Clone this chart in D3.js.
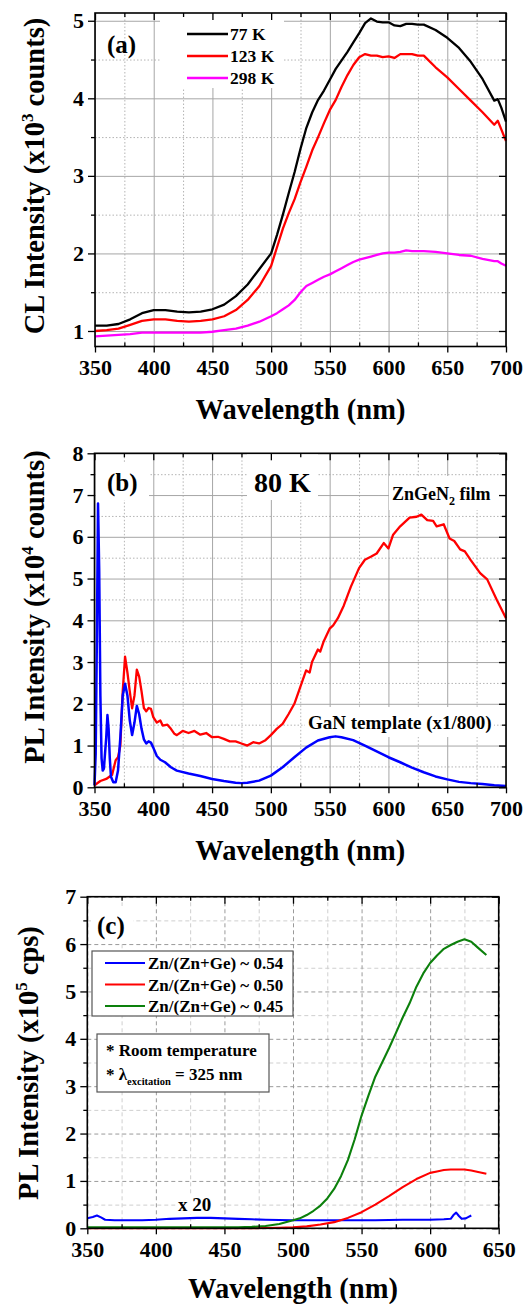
<!DOCTYPE html>
<html>
<head>
<meta charset="utf-8">
<script src="https://cdnjs.cloudflare.com/ajax/libs/d3/7.8.5/d3.min.js"></script>
<style>
  body { margin: 0; background: #fff; }
  svg text { font-family: "Liberation Serif", "Times New Roman", serif; font-weight: bold; fill: #000; }
</style>
</head>
<body>
<div id="chart"></div>
<script>
// ---- panel (a): CL spectra, x10^3 counts
const aWave = [350,360,370,380,390,400,410,420,430,440,
  450,460,470,480,490,500,505,510,515,520,
  525,530,535,540,545,550,555,560,565,570,
  575,580,585,590,595,600,605,610,615,620,
  625,630,640,650,660,670,680,690,693,696,
  700]
const a77K = [1.07,1.07,1.09,1.15,1.23,1.27,1.27,1.25,1.24,1.25,
  1.28,1.34,1.45,1.6,1.8,2.0,2.24,2.5,2.78,3.05,
  3.35,3.62,3.82,3.98,4.1,4.24,4.38,4.49,4.6,4.72,
  4.84,4.97,5.03,4.99,4.98,4.98,4.94,4.93,4.96,4.96,
  4.95,4.95,4.88,4.78,4.65,4.47,4.25,3.97,3.99,3.88,
  3.7]
const a123K = [1.0,1.01,1.03,1.08,1.13,1.15,1.15,1.13,1.12,1.13,
  1.15,1.19,1.27,1.4,1.58,1.84,2.08,2.32,2.52,2.7,
  2.92,3.12,3.33,3.5,3.68,3.85,3.98,4.15,4.3,4.43,
  4.53,4.57,4.55,4.55,4.53,4.54,4.52,4.57,4.57,4.57,
  4.55,4.55,4.4,4.27,4.12,3.97,3.82,3.66,3.71,3.6,
  3.45]
const a298K = [0.93,0.94,0.95,0.96,0.98,0.98,0.98,0.98,0.98,0.98,
  0.99,1.01,1.03,1.07,1.12,1.19,1.23,1.28,1.33,1.4,
  1.5,1.58,1.62,1.66,1.7,1.73,1.77,1.81,1.85,1.89,
  1.92,1.94,1.96,1.98,2.0,2.01,2.01,2.02,2.04,2.03,
  2.03,2.03,2.02,2.0,1.98,1.97,1.93,1.9,1.9,1.87,
  1.84]
const aLegend = ['77 K', '123 K', '298 K']

// ---- panel (b): PL at 80 K, x10^4 counts
const bFilmWave = [350,355,360,365,368,370,372,374,376,378,
  380,382,384,386,388,390,392,394,396,398,
  400,403,406,408,412,415,418,420,425,430,
  435,440,445,450,455,460,465,470,475,480,
  485,490,495,500,505,510,515,520,525,530,
  533,535,540,542,545,550,553,557,562,568,
  575,580,585,590,596,600,604,610,618,624,
  628,633,638,641,647,652,656,661,665,670,
  678,684,692,700]
const bFilm = [0.05,0.15,0.2,0.3,0.65,0.72,1.0,2.3,3.13,2.75,
  2.3,1.89,2.2,2.82,2.65,2.3,1.9,1.82,1.9,1.88,
  1.68,1.55,1.6,1.48,1.5,1.4,1.28,1.25,1.35,1.3,
  1.35,1.26,1.3,1.2,1.21,1.16,1.1,1.1,1.05,1.0,
  1.08,1.05,1.12,1.25,1.4,1.52,1.75,2.0,2.4,2.8,
  2.75,3.0,3.3,3.25,3.5,3.8,3.88,4.05,4.35,4.8,
  5.25,5.45,5.52,5.6,5.85,5.72,6.05,6.25,6.46,6.48,
  6.53,6.4,6.38,6.25,6.3,5.96,5.9,5.7,5.65,5.44,
  5.13,4.98,4.5,4.05]
const bGanWave = [350,351,352,353,354,355,356,357,358,360,
  361,362,363,364,366,368,370,372,374,376,
  378,380,382,384,386,388,390,392,394,396,
  398,400,403,406,410,415,420,430,440,450,
  460,470,475,480,490,500,510,520,530,540,
  550,555,560,570,580,590,600,610,620,630,
  640,650,660,670,680,690,700]
const bGan = [0.05,0.8,3.5,6.8,5.2,2.2,0.7,0.4,0.45,1.2,
  1.73,1.4,0.7,0.25,0.12,0.12,0.4,1.2,2.2,2.48,
  2.2,1.6,1.25,1.55,1.95,1.75,1.4,1.15,1.05,1.1,
  1.07,0.95,0.75,0.66,0.6,0.48,0.4,0.33,0.27,0.2,
  0.15,0.11,0.1,0.11,0.16,0.28,0.48,0.72,0.95,1.12,
  1.2,1.22,1.2,1.13,1.0,0.86,0.72,0.6,0.47,0.36,
  0.26,0.19,0.13,0.1,0.08,0.05,0.03]

// ---- panel (c): room temperature PL, x10^5 cps
const cBlueWave = [350,354,357,360,363,370,380,390,400,410,
  420,430,440,450,460,470,480,500,520,540,
  560,580,600,610,615,617,619,621,623,626,
  628,630]
const cBlue = [0.21,0.24,0.27,0.23,0.18,0.17,0.17,0.17,0.18,0.2,
  0.21,0.22,0.22,0.21,0.2,0.19,0.18,0.17,0.17,0.17,
  0.17,0.18,0.18,0.19,0.2,0.28,0.33,0.26,0.2,0.21,
  0.24,0.27]
const cRedWave = [350,400,450,470,480,490,500,510,520,530,
  540,550,560,570,580,590,600,605,610,615,
  620,625,630,635,641]
const cRed = [0,0,0,0.002,0.005,0.01,0.02,0.04,0.08,0.13,
  0.22,0.34,0.5,0.68,0.87,1.04,1.17,1.2,1.23,1.24,
  1.24,1.24,1.22,1.19,1.15]
const cGreenWave = [350,400,450,460,470,480,490,500,505,510,
  515,520,525,530,535,540,545,550,555,560,
  565,570,575,580,585,590,595,600,605,610,
  615,620,625,630,635,641]
const cGreen = [0.02,0.02,0.02,0.02,0.03,0.05,0.09,0.17,0.21,0.28,
  0.37,0.48,0.63,0.83,1.1,1.44,1.88,2.38,2.8,3.2,
  3.5,3.8,4.12,4.45,4.75,5.1,5.38,5.6,5.76,5.9,
  5.98,6.05,6.1,6.05,5.92,5.77]
const cLegend = ['Zn/(Zn+Ge) ~ 0.54', 'Zn/(Zn+Ge) ~ 0.50', 'Zn/(Zn+Ge) ~ 0.45']

const width = 526, height = 1304

let svg = d3.select('#chart').append('svg')
  .attr('width', width)
  .attr('height', height)

function zip(xs, ys) { return xs.map((w, i) => [w, ys[i]]) }

function makePanel(o) {
  let x = d3.scaleLinear().domain(o.xDomain).range([o.left, o.right])
  let y = d3.scaleLinear().domain(o.yDomain).range([o.bottom, o.top])
  let g = svg.append('g')
  let w = o.right - o.left, h = o.bottom - o.top

  let majX = d3.range(o.xDomain[0], o.xDomain[1] + 1, 50)
  let minX = d3.range(o.xDomain[0] + 25, o.xDomain[1], 50)
  let majY = d3.range(Math.ceil(o.yDomain[0]), o.yDomain[1] + 0.01, 1)
  let minY = d3.range(Math.floor(o.yDomain[0]) + 0.5, o.yDomain[1], 1).filter(v => v > o.yDomain[0])

  // grid
  let grid = g.append('g')
  grid.append('g').attr('transform', `translate(0,${o.bottom})`)
    .call(d3.axisBottom(x).tickValues(minX).tickSize(-h).tickFormat(''))
    .call(s => s.selectAll('line').attr('stroke', o.minorColor).attr('stroke-dasharray', o.minorDash))
  grid.append('g').attr('transform', `translate(${o.left},0)`)
    .call(d3.axisLeft(y).tickValues(minY).tickSize(-w).tickFormat(''))
    .call(s => s.selectAll('line').attr('stroke', o.minorColor).attr('stroke-dasharray', o.minorDash))
  grid.append('g').attr('transform', `translate(0,${o.bottom})`)
    .call(d3.axisBottom(x).tickValues(majX).tickSize(-h).tickFormat(''))
    .call(s => s.selectAll('line').attr('stroke', o.majorColor).attr('stroke-dasharray', o.majorDash))
  grid.append('g').attr('transform', `translate(${o.left},0)`)
    .call(d3.axisLeft(y).tickValues(majY).tickSize(-w).tickFormat(''))
    .call(s => s.selectAll('line').attr('stroke', o.majorColor).attr('stroke-dasharray', o.majorDash))
  grid.selectAll('.domain').remove()

  return {x, y, g, majX, minX, majY, minY}
}

function finishPanel(p, o) {
  let {x, y, g, majX, minX, majY, minY} = p
  let axes = g.append('g')

  // outer ticks left/bottom, inner ticks top/right
  axes.append('g').attr('transform', `translate(0,${o.bottom})`)
    .call(d3.axisBottom(x).tickValues(minX).tickSize(-4).tickFormat(''))
  axes.append('g').attr('transform', `translate(0,${o.bottom})`)
    .call(d3.axisBottom(x).tickValues(majX).tickSize(6).tickPadding(7).tickFormat(d3.format('d')))
    .call(s => s.selectAll('text').attr('font-size', 22))
  axes.append('g').attr('transform', `translate(0,${o.top})`)
    .call(d3.axisTop(x).tickValues(minX).tickSize(-4).tickFormat(''))
  axes.append('g').attr('transform', `translate(0,${o.top})`)
    .call(d3.axisTop(x).tickValues(majX).tickSize(-7).tickFormat(''))
  axes.append('g').attr('transform', `translate(${o.left},0)`)
    .call(d3.axisLeft(y).tickValues(minY).tickSize(4).tickFormat(''))
  axes.append('g').attr('transform', `translate(${o.left},0)`)
    .call(d3.axisLeft(y).tickValues(majY).tickSize(7).tickPadding(4).tickFormat(d3.format('d')))
    .call(s => s.selectAll('text').attr('font-size', 22))
  axes.append('g').attr('transform', `translate(${o.right},0)`)
    .call(d3.axisRight(y).tickValues(minY).tickSize(-4).tickFormat(''))
  axes.append('g').attr('transform', `translate(${o.right},0)`)
    .call(d3.axisRight(y).tickValues(majY).tickSize(-7).tickFormat(''))
  axes.selectAll('.domain').remove()
  axes.selectAll('line').attr('stroke', '#000').attr('stroke-width', 1.3)
  axes.selectAll('text').attr('font-family', '"Liberation Serif", serif').attr('font-weight', 'bold').attr('fill', '#000')

  g.append('rect')
    .attr('x', o.left).attr('y', o.top)
    .attr('width', o.right - o.left).attr('height', o.bottom - o.top)
    .attr('fill', 'none').attr('stroke', '#000').attr('stroke-width', 1.6)

  // axis titles
  g.append('text')
    .attr('x', (o.left + o.right) / 2).attr('y', o.xTitleY)
    .attr('text-anchor', 'middle').attr('font-size', 28.5)
    .text('Wavelength (nm)')

  let yt = g.append('text')
    .attr('transform', `translate(${o.yTitleX},${o.yTitleMid}) rotate(-90)`)
    .attr('text-anchor', 'middle').attr('font-size', 28.5)
  yt.append('tspan').text(o.yTitle[0])
  yt.append('tspan').attr('font-size', 17).attr('dy', -11).text(o.yTitle[1])
  yt.append('tspan').attr('dy', 11).text(o.yTitle[2])
}

function whiteBox(g, x0, y0, x1, y1, stroke) {
  g.append('rect').attr('x', x0).attr('y', y0).attr('width', x1 - x0).attr('height', y1 - y0)
    .attr('fill', '#fff').attr('stroke', stroke || 'none').attr('stroke-width', 1.2)
}

let line = (p) => d3.line().x(d => p.x(d[0])).y(d => p.y(d[1]))

// ======== (a)
let oa = {
  left: 95, right: 506, top: 13, bottom: 346.5,
  xDomain: [350, 700], yDomain: [0.8, 5.1],
  majorColor: '#a6a6a6', majorDash: null, minorColor: '#b4b4b4', minorDash: '1.5,2',
  xTitleY: 419, yTitleX: 44, yTitleMid: 176,
  yTitle: ['CL Intensity (x10', '3', ' counts)']
}
let pa = makePanel(oa)
whiteBox(pa.g, 160, 14, 284, 88)
let aSeries = [[a77K, '#000'], [a123K, '#ff0000'], [a298K, '#ff00ff']]
pa.g.selectAll('path.a').data(aSeries).enter().append('path')
  .attr('d', d => line(pa)(zip(aWave, d[0])))
  .attr('fill', 'none').attr('stroke', d => d[1]).attr('stroke-width', 2.3)
  .attr('stroke-linejoin', 'round')
pa.g.selectAll('line.leg').data(aSeries).enter().append('line')
  .attr('x1', 187).attr('x2', 228)
  .attr('y1', (d, i) => 34 + i * 22).attr('y2', (d, i) => 34 + i * 22)
  .attr('stroke', d => d[1]).attr('stroke-width', 2.3)
pa.g.selectAll('text.leg').data(aLegend).enter().append('text')
  .attr('x', 230).attr('y', (d, i) => 40 + i * 22)
  .attr('font-size', 17.5).text(d => d)
pa.g.append('text').attr('x', 107).attr('y', 53).attr('font-size', 25).text('(a)')
finishPanel(pa, oa)

// ======== (b)
let ob = {
  left: 94.5, right: 506, top: 453.3, bottom: 787.3,
  xDomain: [350, 700], yDomain: [0, 8],
  majorColor: '#a6a6a6', majorDash: null, minorColor: '#b4b4b4', minorDash: '1.5,2',
  xTitleY: 860, yTitleX: 44, yTitleMid: 607,
  yTitle: ['PL Intensity (x10', '4', ' counts)']
}
let pb = makePanel(ob)
whiteBox(pb.g, 96, 463, 149, 500)
whiteBox(pb.g, 247, 454, 318, 500)
whiteBox(pb.g, 389, 476, 504, 510)
whiteBox(pb.g, 305, 707, 494, 737)
pb.g.append('path').attr('d', line(pb)(zip(bFilmWave, bFilm)))
  .attr('fill', 'none').attr('stroke', '#ff0000').attr('stroke-width', 2.3).attr('stroke-linejoin', 'round')
pb.g.append('path').attr('d', line(pb)(zip(bGanWave, bGan)))
  .attr('fill', 'none').attr('stroke', '#0000ff').attr('stroke-width', 2.5).attr('stroke-linejoin', 'round')
pb.g.append('text').attr('x', 107).attr('y', 491).attr('font-size', 25).text('(b)')
pb.g.append('text').attr('x', 254).attr('y', 492).attr('font-size', 28).text('80 K')
let zn = pb.g.append('text').attr('x', 392).attr('y', 500).attr('font-size', 18)
zn.append('tspan').text('ZnGeN')
zn.append('tspan').attr('font-size', 12).attr('dy', 5).text('2')
zn.append('tspan').attr('dy', -5).text(' film')
pb.g.append('text').attr('x', 308).attr('y', 729).attr('font-size', 19).text('GaN template (x1/800)')
finishPanel(pb, ob)

// ======== (c)
let oc = {
  left: 87.3, right: 498.7, top: 896.7, bottom: 1228.3,
  xDomain: [350, 650], yDomain: [0, 7],
  majorColor: '#9a9a9a', majorDash: '4,3', minorColor: '#cfcfcf', minorDash: '4,3',
  xTitleY: 1298, yTitleX: 38, yTitleMid: 1063,
  yTitle: ['PL Intensity (x10', '5', ' cps)']
}
let pc = makePanel(oc)
whiteBox(pc.g, 91, 906, 133, 942)
whiteBox(pc.g, 176, 1194, 218, 1214)
let cSeries = [[cBlueWave, cBlue, '#0000ff'], [cRedWave, cRed, '#ff0000'], [cGreenWave, cGreen, '#0c800c']]
pc.g.selectAll('path.c').data(cSeries).enter().append('path')
  .attr('d', d => line(pc)(zip(d[0], d[1])))
  .attr('fill', 'none').attr('stroke', d => d[2]).attr('stroke-width', 2.1).attr('stroke-linejoin', 'round')
whiteBox(pc.g, 92, 951, 293, 1016, '#555')
pc.g.selectAll('line.leg').data(cSeries).enter().append('line')
  .attr('x1', 105).attr('x2', 145)
  .attr('y1', (d, i) => 963 + i * 21.5).attr('y2', (d, i) => 963 + i * 21.5)
  .attr('stroke', d => d[2]).attr('stroke-width', 2.1)
pc.g.selectAll('text.leg').data(cLegend).enter().append('text')
  .attr('x', 148).attr('y', (d, i) => 969 + i * 21.5)
  .attr('font-size', 17).text(d => d)
whiteBox(pc.g, 97, 1034, 269, 1092, '#555')
pc.g.append('text').attr('x', 106).attr('y', 1056).attr('font-size', 17).text('* Room temperature')
let lam = pc.g.append('text').attr('x', 106).attr('y', 1080).attr('font-size', 17)
lam.append('tspan').text('* λ')
lam.append('tspan').attr('font-size', 10.5).attr('dy', 5).text('excitation')
lam.append('tspan').attr('dy', -5).text(' = 325 nm')
pc.g.append('text').attr('x', 97).attr('y', 934).attr('font-size', 25).text('(c)')
pc.g.append('text').attr('x', 178).attr('y', 1211).attr('font-size', 19).text('x 20')
finishPanel(pc, oc)
</script>
</body>
</html>
